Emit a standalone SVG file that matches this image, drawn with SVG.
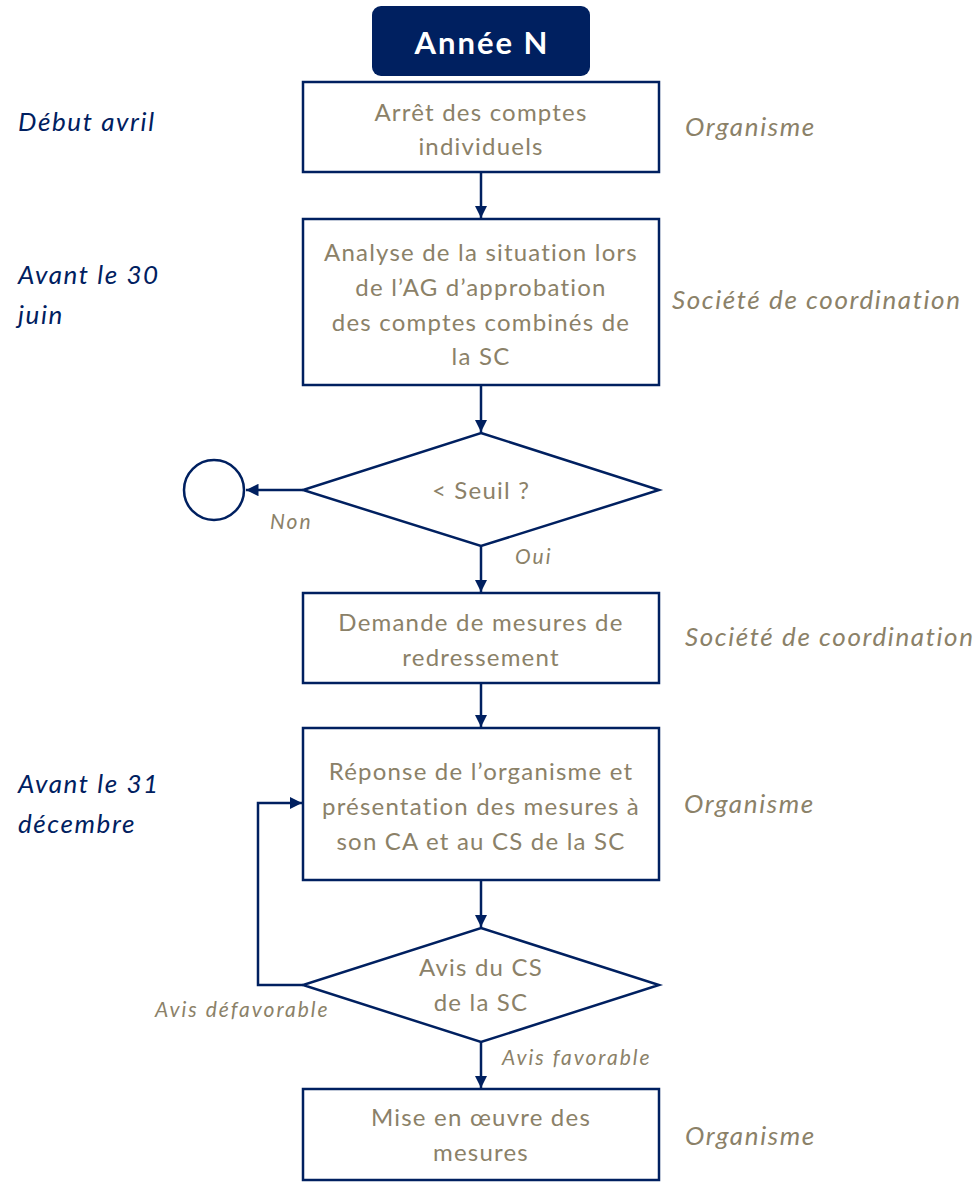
<svg xmlns="http://www.w3.org/2000/svg" width="973" height="1182" viewBox="0 0 973 1182">
<defs>
<style>
.box{fill:#fff;stroke:#002060;stroke-width:2.5}
.ln{fill:none;stroke:#002060;stroke-width:2.5}
.t{font-family:Lato,"Noto Sans",sans-serif;font-size:24px;letter-spacing:1.2px;fill:#8B8168;text-anchor:middle}
.r{font-family:Lato,"Noto Sans",sans-serif;font-size:26px;letter-spacing:1.6px;fill:#8B8168;font-style:italic}
.l{font-family:Lato,"Noto Sans",sans-serif;font-size:26px;letter-spacing:1.6px;fill:#002060;font-style:italic}
.s{font-family:Lato,"Noto Sans",sans-serif;font-size:21px;letter-spacing:2px;fill:#8B8168;font-style:italic}
</style>
<marker id="ah" viewBox="0 0 10 10" refX="10" refY="5" markerWidth="5" markerHeight="5" orient="auto" markerUnits="strokeWidth">
<path d="M0,0L10,5L0,10z" fill="#002060"/>
</marker>
</defs>
<rect width="973" height="1182" fill="#fff"/>
<g id="connectors">
<line class="ln" x1="481" y1="172" x2="481" y2="218" marker-end="url(#ah)"/>
<line class="ln" x1="481" y1="385" x2="481" y2="432" marker-end="url(#ah)"/>
<line class="ln" x1="303" y1="490" x2="246" y2="490" marker-end="url(#ah)"/>
<line class="ln" x1="481" y1="546" x2="481" y2="592" marker-end="url(#ah)"/>
<line class="ln" x1="481" y1="683" x2="481" y2="727" marker-end="url(#ah)"/>
<line class="ln" x1="481" y1="880" x2="481" y2="927" marker-end="url(#ah)"/>
<polyline class="ln" points="303,985 258,985 258,803 302,803" marker-end="url(#ah)"/>
<line class="ln" x1="481" y1="1042" x2="481" y2="1088" marker-end="url(#ah)"/>
<text class="s" x="270" y="529">Non</text>
<text class="s" x="515" y="564">Oui</text>
<text class="s" x="155" y="1017">Avis défavorable</text>
<text class="s" x="502" y="1065">Avis favorable</text>
</g>
<g id="title">
<rect x="372" y="6" width="218" height="70" rx="9" fill="#002060"/>
<text x="482" y="54" font-family="Lato,'Noto Sans',sans-serif" font-size="31" font-weight="bold" letter-spacing="2" fill="#fff" text-anchor="middle">Année N</text>
</g>
<g id="n1">
<rect class="box" x="303" y="82" width="356" height="90"/>
<text class="t" x="481" y="121">Arrêt des comptes</text>
<text class="t" x="481" y="155">individuels</text>
</g>
<g id="n2">
<rect class="box" x="303" y="219" width="356" height="166"/>
<text class="t" x="481" y="261">Analyse de la situation lors</text>
<text class="t" x="481" y="296">de l’AG d’approbation</text>
<text class="t" x="481" y="331">des comptes combinés de</text>
<text class="t" x="481" y="365">la SC</text>
</g>
<g id="d1">
<polygon class="box" points="481,433 659,490 481,546 303,490"/>
<text class="t" x="481" y="499">&lt; Seuil ?</text>
</g>
<g id="c1">
<circle class="box" cx="214" cy="490" r="30"/>
</g>
<g id="n3">
<rect class="box" x="303" y="593" width="356" height="90"/>
<text class="t" x="481" y="631">Demande de mesures de</text>
<text class="t" x="481" y="666">redressement</text>
</g>
<g id="n4">
<rect class="box" x="303" y="728" width="356" height="152"/>
<text class="t" x="481" y="780">Réponse de l’organisme et</text>
<text class="t" x="481" y="815">présentation des mesures à</text>
<text class="t" x="481" y="850">son CA et au CS de la SC</text>
</g>
<g id="d2">
<polygon class="box" points="481,928 659,985 481,1042 303,985"/>
<text class="t" x="481" y="976">Avis du CS</text>
<text class="t" x="481" y="1011">de la SC</text>
</g>
<g id="n5">
<rect class="box" x="303" y="1089" width="356" height="91"/>
<text class="t" x="481" y="1126">Mise en œuvre des</text>
<text class="t" x="481" y="1161">mesures</text>
</g>
<g id="left-labels">
<text class="l" x="18" y="131">Début avril</text>
<text class="l" x="18" y="284">Avant le 30</text>
<text class="l" x="18" y="324">juin</text>
<text class="l" x="18" y="793">Avant le 31</text>
<text class="l" x="18" y="833">décembre</text>
</g>
<g id="right-labels">
<text class="r" x="685" y="136">Organisme</text>
<text class="r" x="672" y="309">Société de coordination</text>
<text class="r" x="685" y="646">Société de coordination</text>
<text class="r" x="684" y="813">Organisme</text>
<text class="r" x="685" y="1145">Organisme</text>
</g>
</svg>
